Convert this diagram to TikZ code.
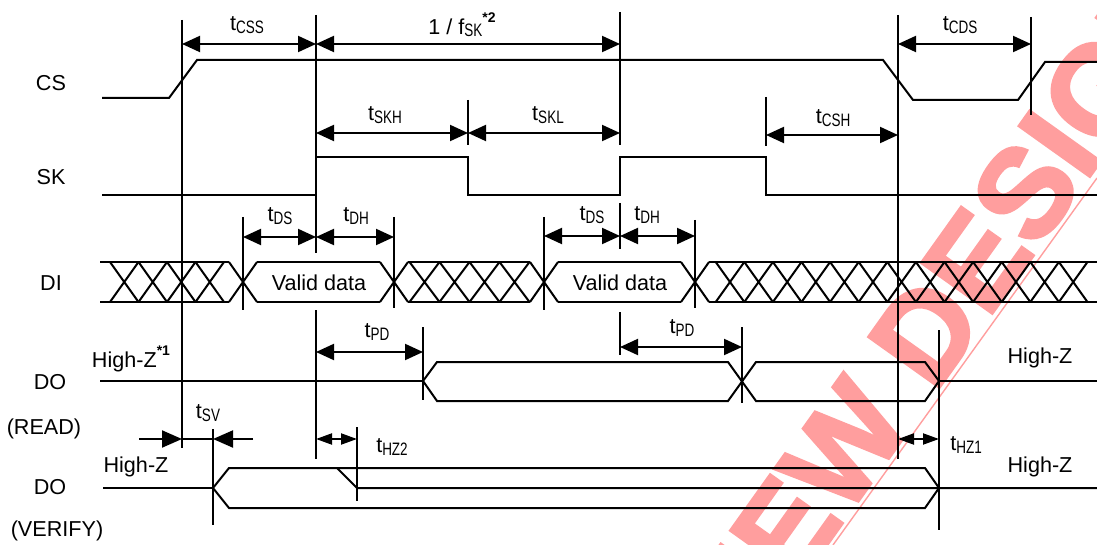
\documentclass[tikz,border=0pt]{standalone}
\usepackage{fontspec}
\setmainfont{Liberation Sans}
\newfontfamily\wmfont[FakeBold=2.5]{Liberation Sans Bold}
\usepackage{graphicx}
\usetikzlibrary{arrows.meta}
\definecolor{wm}{RGB}{255,158,158}
\newcommand\mysub[1]{\raisebox{-0.25ex}{\fontsize{9}{9}\selectfont\scalebox{0.75}[1]{#1}}}
\newcommand\tlbl[1]{t\mysub{#1}}
\newcommand\mystar[1]{\raisebox{1.0ex}{\fontsize{7}{7}\selectfont\bfseries *#1}}
\begin{document}
\begin{tikzpicture}[x=0.5pt,y=-0.5pt,line width=1pt,
  lab/.style={font=\fontsize{10.8}{12}\selectfont, inner sep=0pt},
  wmstyle/.style={rotate=54.5, text=wm, inner sep=0pt, font=\wmfont\fontsize{63}{63}\selectfont},
  dim/.style={{Triangle[length=9pt,width=8pt]}-{Triangle[length=9pt,width=8pt]}},
  sdim/.style={{Triangle[length=8pt,width=5.5pt]}-{Triangle[length=8pt,width=5.5pt]}},
  ptr/.style={-{Triangle[length=10pt,width=8.5pt]}},
  sig/.style={line join=miter}]
\useasboundingbox (0,0) rectangle (1097,545);
\clip (0,0) rectangle (1097,545);
% watermark
\node[wmstyle] (wmtext) at (944,306) {NEW DESIGN};
\draw[wm, line width=0.7pt] (833,545) -- (1097,178);

% signal names
\node[lab] (nCS) at (51,83) {CS};
\node[lab] (nSK) at (51,177) {SK};
\node[lab] (nDI) at (51,283) {DI};
\node[lab] (nDO1) at (50,382) {DO};
\node[lab] (nREAD) at (44,429) {(READ)};
\node[lab] (nDO2) at (50,487) {DO};
\node[lab] (nVER) at (57,531) {(VERIFY)};

% CS
\draw[sig] (102,98) -- (169,98) -- (197,60) -- (883,60) -- (913,100) -- (1018,100) -- (1045,62) -- (1097,62);
% SK
\draw[sig] (102,195) -- (316,195) -- (316,157) -- (468,157) -- (468,195) -- (620,195) -- (620,157) -- (766,157) -- (766,195) -- (1097,195);

% DI bus
\draw (100,262) -- (229,262) (100,302) -- (229,302);
\foreach \a in {110,138.5,167,195.5} { \draw (\a,262) -- (\a+28.5,302) (\a,302) -- (\a+28.5,262); }
\draw (229,262) -- (257,302) (229,302) -- (257,262);
\draw (257,262) -- (380,262) (257,302) -- (380,302);
\draw (380,262) -- (408,302) (380,302) -- (408,262);
\draw (408,262) -- (530,262) (408,302) -- (530,302);
\foreach \a in {409.5,439.5,469.5,499.5} { \draw (\a,262) -- (\a+30,302) (\a,302) -- (\a+30,262); }
\draw (530,262) -- (558,302) (530,302) -- (558,262);
\draw (558,262) -- (681,262) (558,302) -- (681,302);
\draw (681,262) -- (709,302) (681,302) -- (709,262);
\draw (709,262) -- (1097,262) (709,302) -- (1097,302);
\foreach \k in {0,...,12} { \draw ({715.7+28.6*\k},262) -- ({744.3+28.6*\k},302) ({715.7+28.6*\k},302) -- ({744.3+28.6*\k},262); }
\node[lab] (vd1) at (319,283) {Valid data};
\node[lab] (vd2) at (620,283) {Valid data};

% DO READ
\draw[sig] (100,381) -- (423,381);
\draw[sig] (423,381) -- (437,362) -- (728,362) -- (756,401) -- (925,401) -- (939,381);
\draw[sig] (423,381) -- (437,401) -- (728,401) -- (756,362) -- (925,362) -- (939,381);
\draw (939,381) -- (1097,381);
\node[lab] (hz1) at (131,359) {High-Z\mystar{1}};
\node[lab] (hz2) at (1040,358) {High-Z};

% DO VERIFY
\draw[sig] (103,488) -- (213,488);
\draw[sig] (213,488) -- (229,468) -- (925,468) -- (939,488);
\draw[sig] (213,488) -- (229,508) -- (925,508) -- (939,488);
\draw[sig] (337,468) -- (357,488) -- (1097,488);
\node[lab] (hz3) at (136,467) {High-Z};
\node[lab] (hz4) at (1040,467) {High-Z};

% vertical reference lines
\draw (182,20) -- (182,448);
\draw (316,15) -- (316,253) (316,310) -- (316,459);
\draw (620,12) -- (620,145) (620,203) -- (620,249) (620,312) -- (620,355);
\draw (468,100) -- (468,145);
\draw (766,97) -- (766,146);
\draw (898,15) -- (898,459);
\draw (1031,17) -- (1031,115);
\draw (939,330) -- (939,530);
\draw (243,217) -- (243,310) (394,217) -- (394,308) (544,217) -- (544,310) (695,220) -- (695,308);
\draw (423,327) -- (423,400);
\draw (742,327) -- (742,403);
\draw (213,429) -- (213,525);
\draw (357,427) -- (357,501);

% dimension arrows
\draw[dim] (182,44) -- (316,44);
\draw[dim] (316,44) -- (620,44);
\draw[dim] (898,44) -- (1031,44);
\draw[dim] (316,133) -- (468,133);
\draw[dim] (468,133) -- (620,133);
\draw[dim] (766,135) -- (898,135);
\draw[dim] (243,237) -- (316,237);
\draw[dim] (316,237) -- (394,237);
\draw[dim] (544,236) -- (620,236);
\draw[dim] (620,236) -- (695,236);
\draw[dim] (316,352) -- (423,352);
\draw[dim] (620,347) -- (742,347);
\draw[ptr] (139,439) -- (182,439);
\draw[ptr] (253,439) -- (213,439);
\draw (182,439) -- (213,439);
\draw[sdim] (316,439) -- (357,439);
\draw[sdim] (898,439) -- (939,439);

% timing labels
\node[lab] (tcss) at (247,25) {\tlbl{CSS}};
\node[lab] (fsk) at (462,25) {1 / f\mysub{SK}\mystar{2}};
\node[lab] (tcds) at (960,25) {\tlbl{CDS}};
\node[lab] (tskh) at (385,115) {\tlbl{SKH}};
\node[lab] (tskl) at (548,115) {\tlbl{SKL}};
\node[lab] (tcsh) at (833,118) {\tlbl{CSH}};
\node[lab] (tds1) at (280,216) {\tlbl{DS}};
\node[lab] (tdh1) at (356,216) {\tlbl{DH}};
\node[lab] (tds2) at (592,215) {\tlbl{DS}};
\node[lab] (tdh2) at (647,215) {\tlbl{DH}};
\node[lab] (tpd1) at (377,332) {\tlbl{PD}};
\node[lab] (tpd2) at (682,328) {\tlbl{PD}};
\node[lab] (tsv) at (208,413) {\tlbl{SV}};
\node[lab] (thz2) at (392,447) {\tlbl{HZ2}};
\node[lab] (thz1) at (966,445) {\tlbl{HZ1}};
\end{tikzpicture}
\end{document}
